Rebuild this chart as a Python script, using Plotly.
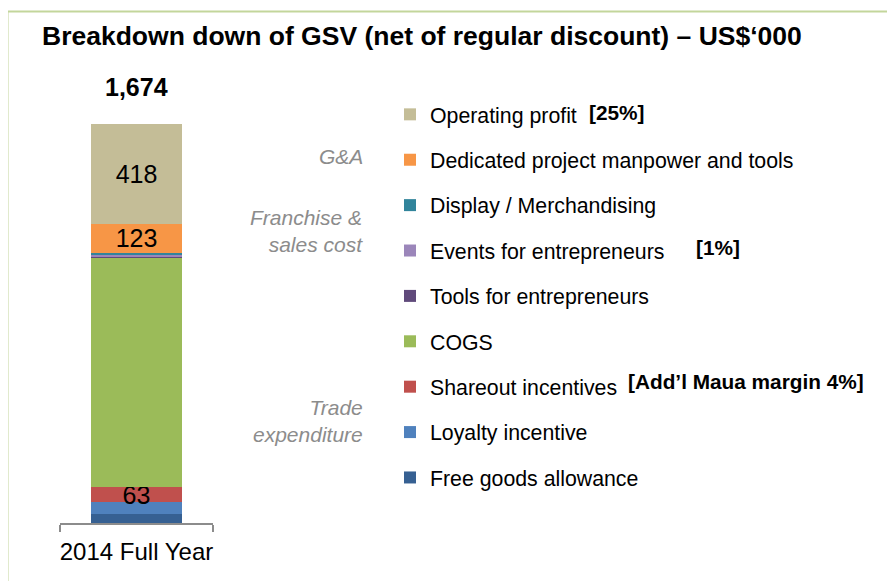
import plotly.graph_objects as go

# page body has an 8px margin in the browser; compensate for it
OFF = 8
W, H = 895 - OFF, 581 - OFF

category = ["2014 Full Year"]
series_names = [
    "Free goods allowance",
    "Loyalty incentive",
    "Shareout incentives",
    "COGS",
    "Tools for entrepreneurs",
    "Events for entrepreneurs",
    "Display / Merchandising",
    "Dedicated project manpower and tools",
    "Operating profit",
]
series_values = [38, 50, 63, 962, 6, 5, 9, 123, 418]
series_labels = [False, False, True, False, False, False, False, True, True]
series_colors = [
    "#366092", "#4f81bd", "#c0504d", "#9bbb59", "#604a7b",
    "#9b86ba", "#31849b", "#f79646", "#c4bd97",
]
total = sum(series_values)
total_label = f"{total:,}"

group_labels = [("G&A", 157), ("Franchise &<br>sales cost", 231), ("Trade<br>expenditure", 421)]
notes = [("[25%]", 587, 112), ("[1%]", 694, 247), ("[Add\u2019l Maua margin 4%]", 626, 381)]

FONT = "Arial, 'Liberation Sans', sans-serif"

def px(x):
    return (x - OFF) / W

def py(y):
    return 1 - (y - OFF) / H

fig = go.Figure()
n = len(series_names)
for i, (name, val, lab, col) in enumerate(zip(series_names, series_values, series_labels, series_colors)):
    fig.add_trace(go.Bar(
        x=category, y=[val], name=name,
        marker=dict(color=col, line=dict(width=0)),
        text=[str(val)] if lab else None,
        textposition="inside" if lab else "none",
        insidetextanchor="middle",
        constraintext="none",
        textangle=0,
        textfont=dict(family=FONT, size=25, color="black"),
        legendgroup=name,
        legendrank=n - i,
        hoverinfo="skip",
    ))

annotations = []
annotations.append(dict(
    text="<b>Breakdown down of GSV (net of regular discount) \u2013 US$\u2018000</b>",
    xref="paper", yref="paper", x=px(40), y=py(36), xanchor="left", yanchor="middle",
    showarrow=False, font=dict(family=FONT, size=26.5, color="black")))
annotations.append(dict(
    text=f"<b>{total_label}</b>", xref="x", yref="y", x=category[0], y=total,
    yanchor="bottom", yshift=21, showarrow=False,
    font=dict(family=FONT, size=25, color="black")))
for txt, yc in group_labels:
    annotations.append(dict(
        text=f"<i>{txt}</i>", xref="paper", yref="paper", x=px(365), y=py(yc),
        xanchor="right", yanchor="middle", align="right", showarrow=False,
        font=dict(family=FONT, size=21, color="#8c8c8c")))
for txt, xl, yc in notes:
    annotations.append(dict(
        text=f"<b>{txt}</b>", xref="paper", yref="paper", x=px(xl), y=py(yc),
        xanchor="left", yanchor="middle", showarrow=False,
        font=dict(family=FONT, size=20.8, color="black")))

shapes = [
    dict(type="line", xref="paper", yref="paper", x0=px(7.5), x1=1.0, y0=py(11.5), y1=py(11.5),
         line=dict(color="#c3d69b", width=2)),
    dict(type="line", xref="paper", yref="paper", x0=px(7.5), x1=px(7.5), y0=py(11.5), y1=0,
         line=dict(color="#c3d69b", width=2)),
]

fig.update_layout(
    width=W, height=H,
    margin=dict(l=0, r=0, t=0, b=0, autoexpand=False),
    paper_bgcolor="white", plot_bgcolor="white",
    barmode="stack", bargap=0.4,
    showlegend=True,
    legend=dict(
        x=px(390), y=py(94), xanchor="left", yanchor="top",
        traceorder="grouped", tracegroupgap=14.7,
        font=dict(family=FONT, size=21.3, color="black"),
        bgcolor="rgba(0,0,0,0)", itemclick=False, itemdoubleclick=False,
    ),
    xaxis=dict(
        domain=[px(60), px(213)], type="category", range=[-0.5, 0.5],
        tickson="boundaries", ticks="outside", ticklen=7, tickwidth=1.5, tickangle=0,
        ticklabelstandoff=6,
        tickcolor="#8c8c8c", showline=True, linecolor="#8c8c8c", linewidth=1.5,
        tickfont=dict(family=FONT, size=24, color="black"), showgrid=False, fixedrange=True,
        automargin=False,
    ),
    yaxis=dict(
        domain=[py(523), py(124)], range=[0, total], visible=False,
        showgrid=False, zeroline=False, fixedrange=True, automargin=False,
    ),
    annotations=annotations,
    shapes=shapes,
    font=dict(family=FONT),
)

fig.write_html("out.html")
